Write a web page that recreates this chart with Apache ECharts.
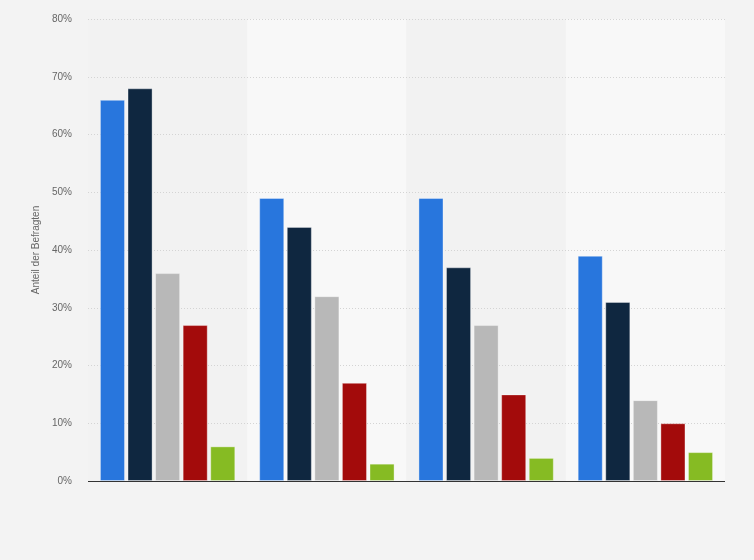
<!DOCTYPE html>
<html>
<head>
<meta charset="utf-8">
<script src="https://cdn.jsdelivr.net/npm/echarts@6/dist/echarts.min.js"></script>
<style>
html, body { margin: 0; padding: 0; background: #f3f3f3; }
#chart { width: 754px; height: 560px; }
</style>
</head>
<body>
<div id="chart"></div>
<script>
// Kategorien (keine Beschriftung sichtbar)
var categories = ['1', '2', '3', '4'];
var seriesNames = ['A', 'B', 'C', 'D', 'E'];
var seriesColors = ['#2876dd', '#0f2740', '#b8b8b8', '#a30b0b', '#86bb23'];
// Werte in Prozent
var valuesA = [66, 49, 49, 39];
var valuesB = [68, 44, 37, 31];
var valuesC = [36, 32, 27, 14];
var valuesD = [27, 17, 15, 10];
var valuesE = [6, 3, 4, 5];
var allValues = [valuesA, valuesB, valuesC, valuesD, valuesE];

var myChart = echarts.init(document.getElementById('chart'));
var series = allValues.map(function(vals, i) {
	return {
		name: seriesNames[i],
		type: 'bar',
		z: 3,
		barGap: '10%',
		barCategoryGap: '15%',
		itemStyle: {
			color: seriesColors[i],
			borderColor: 'rgba(255,255,255,0.35)',
			borderWidth: 1
		},
		data: vals
	};
});

var option = {
	backgroundColor: '#f3f3f3',
	animation: false,
	grid: {
		left: 88,
		right: 29,
		top: 19,
		bottom: 79
	},
	xAxis: {
		type: 'category',
		data: categories,
		z: 0,
		axisLabel: { show: false },
		axisTick: { show: false },
		axisLine: { show: false },
		splitArea: {
			show: true,
			areaStyle: { color: ['#f2f2f2', '#f8f8f8'] }
		}
	},
	yAxis: {
		type: 'value',
		min: 0,
		max: 80,
		interval: 10,
		z: 1,
		name: 'Anteil der Befragten',
		nameLocation: 'middle',
		nameGap: 40,
		nameTextStyle: { color: '#666', fontSize: 10, fontFamily: 'Liberation Sans' },
		axisLabel: {
			formatter: '{value}%',
			color: '#666',
			fontSize: 10,
			fontFamily: 'Liberation Sans',
			margin: 16
		},
		axisLine: { show: false },
		axisTick: { show: false },
		splitLine: { lineStyle: { color: '#d4d4d4', type: [1, 2] } }
	},
	series: series.concat([{
		// Nulllinie über den Balken
		type: 'line',
		data: [],
		markLine: {
			silent: true,
			symbol: 'none',
			label: { show: false },
			lineStyle: { color: '#333', type: 'solid', width: 1.2 },
			data: [{ yAxis: 0 }]
		}
	}])
};
myChart.setOption(option);
</script>
</body>
</html>
